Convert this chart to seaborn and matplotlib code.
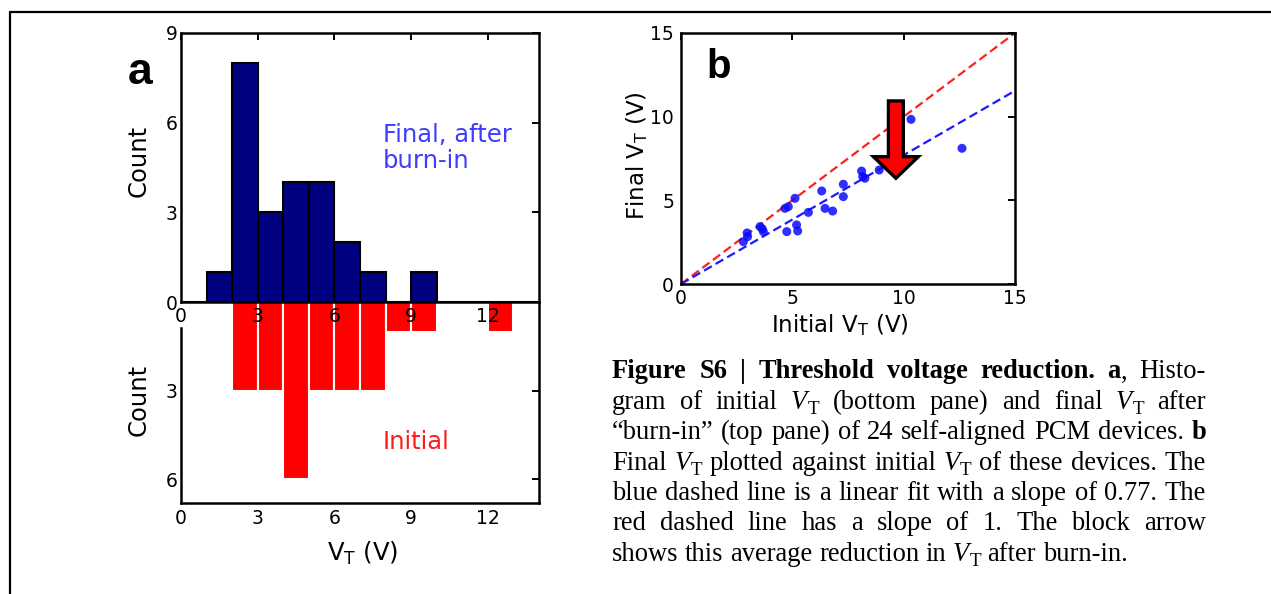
import re
import numpy as np
import pandas as pd
import matplotlib
matplotlib.use("Agg")
import matplotlib.pyplot as plt
import seaborn as sns
from matplotlib.lines import Line2D
from matplotlib.transforms import IdentityTransform

# ---------------- data ----------------
bin_width = 1                                        # 1 V wide bins
bin_range = (0, 14)
final_bin_left = [1, 2, 3, 4, 5, 6, 7, 9]            # final V_T histogram (top pane)
final_counts = [1, 8, 3, 4, 4, 2, 1, 1]
initial_bin_left = [2, 3, 4, 5, 6, 7, 8, 9, 12]      # initial V_T histogram (bottom pane)
initial_counts = [3, 3, 6, 3, 3, 3, 1, 1, 1]

initial_vt = [2.80, 2.99, 2.97, 3.55, 3.65, 3.70, 4.67, 4.82, 4.75, 5.12, 5.19, 5.24,
              5.72, 6.32, 6.47, 6.81, 7.29, 7.29, 8.11, 8.16, 8.26, 8.90, 10.33, 12.62]
final_vt = [2.53, 2.83, 3.05, 3.43, 3.30, 3.13, 4.52, 4.62, 3.13, 5.12, 3.53, 3.17,
            4.28, 5.56, 4.52, 4.36, 5.96, 5.22, 6.75, 6.42, 6.32, 6.81, 9.84, 8.11]
fit_slope = 0.77
unity_slope = 1.0
arrow_x, arrow_top, arrow_tip = 9.65, 10.94, 6.32

hist_xticks = [0, 3, 6, 9, 12]
top_yticks = [0, 3, 6, 9]
bot_yticks = [3, 6]
scatter_ticks = [0, 5, 10, 15]

caption_lines = [
    "{b:Figure} {b:S6} {b:|} {b:Threshold} {b:voltage} {b:reduction.} {b:a}, Histo-",
    "gram of initial {v} (bottom pane) and final {v} after",
    "\u201cburn-in\u201d (top pane) of 24 self-aligned PCM devices. {b:b}",
    "Final {v} plotted against initial {v} of these devices. The",
    "blue dashed line is a linear fit with a slope of 0.77. The",
    "red dashed line has a slope of 1. The block arrow",
    "shows this average reduction in {v} after burn-in.",
]

final_df = pd.DataFrame({"vt": np.array(final_bin_left) + 0.5, "n": final_counts})
initial_df = pd.DataFrame({"vt": np.array(initial_bin_left) + 0.5, "n": initial_counts})
scatter_df = pd.DataFrame({"initial": initial_vt, "final": final_vt})

# ---------------- figure ----------------
sns.set_style("white")
plt.rcParams["font.family"] = ["DejaVu Sans"]
plt.rcParams["mathtext.fontset"] = "dejavusans"
plt.rcParams["text.color"] = "black"
plt.rcParams["axes.labelcolor"] = "black"
plt.rcParams["xtick.color"] = "black"
plt.rcParams["ytick.color"] = "black"

W, H = 1271, 594
fig = plt.figure(figsize=(W / 100, H / 100), dpi=100)
fig.patch.set_facecolor("white")


def fx(px):
    return px / W


def fy(py):
    return 1 - py / H


SPINE_LW = 1.8
TICK_FS = 13.5
LABEL_FS = 17.5

# outer frame (top and left edges)
fig.add_artist(Line2D([fx(10), fx(10)], [fy(12), 0], color="black", lw=1.6,
                      transform=fig.transFigure))
fig.add_artist(Line2D([fx(10), 1], [fy(12), fy(12)], color="black", lw=1.6,
                      transform=fig.transFigure))

ax_bot = fig.add_axes([fx(181), fy(503), (539 - 181) / W, (503 - 302) / H])
ax_top = fig.add_axes([fx(181), fy(302), (539 - 181) / W, (302 - 33) / H])
ax_b = fig.add_axes([fx(681), fy(284), (1015 - 681) / W, (284 - 33) / H])
ax_top.set_zorder(3)
ax_top.patch.set_alpha(0)

# ---- top pane: final V_T ----
sns.histplot(data=final_df, x="vt", weights="n", binwidth=bin_width, binrange=bin_range,
             ax=ax_top, color="#000080", edgecolor="black", linewidth=1.5, alpha=1)
ax_top.set_xlim(0, 14)
ax_top.set_ylim(0, 9)
ax_top.set_xticks(hist_xticks)
ax_top.set_yticks(top_yticks)
ax_top.tick_params(axis="both", direction="in", length=5, width=1.4, labelsize=TICK_FS,
                   top=True, right=True, colors="black")
ax_top.tick_params(axis="y", pad=2.5)
ax_top.tick_params(axis="x", pad=3.5)
ax_top.set_xlabel("")
ax_top.set_ylabel("Count", fontsize=LABEL_FS, va="center")
ax_top.yaxis.set_label_coords(-0.117, 0.524)
for s in ax_top.spines.values():
    s.set_linewidth(SPINE_LW)
    s.set_color("black")
ax_top.text(0.564, 0.665, "Final, after\nburn-in", transform=ax_top.transAxes,
            color="#3d3dff", fontsize=17.5, va="top", ha="left", linespacing=1.1)

# ---- bottom pane: initial V_T ----
sns.histplot(data=initial_df, x="vt", weights="n", binwidth=bin_width, binrange=bin_range,
             ax=ax_bot, color="#ff0000", edgecolor="white", linewidth=1.5, alpha=1)
ax_bot.set_xlim(0, 14)
ax_bot.set_ylim(6.8, 0)
ax_bot.set_xticks(hist_xticks)
ax_bot.set_yticks(bot_yticks)
ax_bot.tick_params(axis="both", direction="in", length=5, width=1.4, labelsize=TICK_FS,
                   right=True, colors="black")
ax_bot.tick_params(axis="y", pad=2.5)
ax_bot.tick_params(axis="x", pad=4.5)
ax_bot.spines["top"].set_visible(False)
ax_bot.spines["left"].set_bounds(0.88, 6.8)
for s in ax_bot.spines.values():
    s.set_linewidth(SPINE_LW)
    s.set_color("black")
ax_bot.set_ylabel("Count", fontsize=LABEL_FS, va="center")
ax_bot.yaxis.set_label_coords(-0.117, 0.512)
ax_bot.set_xlabel(r"V$_\mathrm{T}$ (V)", fontsize=LABEL_FS, va="center")
ax_bot.xaxis.set_label_coords(0.506, -0.249)
ax_bot.text(0.564, 0.303, "Initial", transform=ax_bot.transAxes, color="#ff1a1a",
            fontsize=17.5, va="center", ha="left")

# ---- panel b: scatter ----
ax_b.axline((0, 0), slope=unity_slope, color="#ff2020", lw=1.6, ls=(0, (4, 2)), zorder=2)
ax_b.axline((0, 0), slope=fit_slope, color="#1a1aff", lw=1.6, ls=(0, (4, 2)), zorder=2)
sns.scatterplot(data=scatter_df, x="initial", y="final", ax=ax_b, color="#0a0aff", s=42,
                edgecolor="none", alpha=0.85, zorder=3)
ax_b.arrow(arrow_x, arrow_top, 0, arrow_tip - arrow_top, width=0.67, head_width=2.02,
           head_length=1.29, length_includes_head=True, fc="#ff0000", ec="black",
           lw=2.4, zorder=4)
ax_b.set_xlim(0, 15)
ax_b.set_ylim(0, 15)
ax_b.set_xticks(scatter_ticks)
ax_b.set_yticks(scatter_ticks)
ax_b.tick_params(axis="both", direction="in", length=5, width=1.4, labelsize=TICK_FS,
                 top=True, right=True, colors="black")
ax_b.tick_params(axis="y", pad=5)
ax_b.tick_params(axis="x", pad=3.5)
for s in ax_b.spines.values():
    s.set_linewidth(SPINE_LW)
    s.set_color("black")
ax_b.set_xlabel(r"Initial V$_\mathrm{T}$ (V)", fontsize=16.5, va="center")
ax_b.xaxis.set_label_coords(0.476, -0.163)
ax_b.set_ylabel(r"Final V$_\mathrm{T}$ (V)", fontsize=16.5, va="center")
ax_b.yaxis.set_label_coords(-0.132, 0.51)

# panel letters
fig.text(fx(140), fy(73), "a", family="Liberation Sans", weight="bold", fontsize=32,
         ha="center", va="center", color="black")
fig.text(fx(719), fy(67), "b", family="Liberation Sans", weight="bold", fontsize=29,
         ha="center", va="center", color="black")

# ---------------- caption (justified, mixed styles) ----------------
CAP_FS = 19.1
cap_x0, cap_x1 = 612, 1206
cap_base0, cap_dy = 378.5, 30.4
renderer = fig.canvas.get_renderer()
px_per_pt = fig.dpi / 72.0


def make_run(text, kind):
    kw = dict(family="Liberation Serif", color="black", va="baseline", ha="left",
              transform=IdentityTransform(), fontsize=CAP_FS)
    if kind == "b":
        kw["weight"] = "bold"
    elif kind == "i":
        kw["style"] = "italic"
    elif kind == "sub":
        kw["fontsize"] = CAP_FS * 0.72
    t = fig.text(0, 0, text, **kw)
    return t, kind


def parse_word(word):
    runs = []
    for part in re.split(r"(\{b:[^}]*\}|\{v\})", word):
        if not part:
            continue
        if part.startswith("{b:"):
            runs.append(make_run(part[3:-1], "b"))
        elif part == "{v}":
            runs.append(make_run("V", "i"))
            runs.append(make_run("T", "sub"))
        else:
            runs.append(make_run(part, "r"))
    return runs


space_w = 0.25 * CAP_FS * px_per_pt
for i, line in enumerate(caption_lines):
    words = [parse_word(w) for w in line.split(" ")]
    widths = []
    for runs in words:
        widths.append(sum(t.get_window_extent(renderer).width for t, _ in runs))
    justify = i < len(caption_lines) - 1
    if justify and len(words) > 1:
        gap = (cap_x1 - cap_x0 - sum(widths)) / (len(words) - 1)
    else:
        gap = space_w
    base_disp = H - (cap_base0 + i * cap_dy)
    x = cap_x0
    for runs, w in zip(words, widths):
        xx = x
        for t, kind in runs:
            yoff = -0.19 * CAP_FS * px_per_pt if kind == "sub" else 0
            t.set_position((xx, base_disp + yoff))
            xx += t.get_window_extent(renderer).width
        x += w + gap

fig.savefig("out.png", dpi=100, facecolor="white")
